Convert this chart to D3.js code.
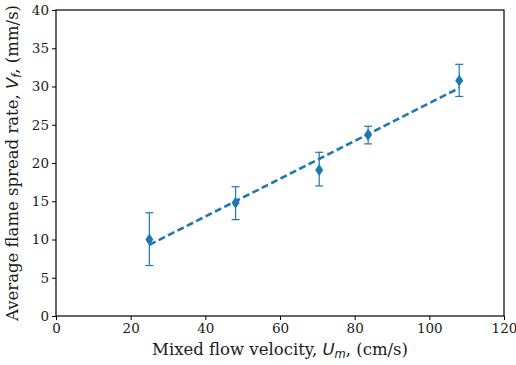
<!DOCTYPE html>
<html>
<head>
<meta charset="utf-8">
<script src="https://cdn.jsdelivr.net/npm/d3@7"></script>
<style>
  body { margin: 0; background: #fff; }
  text { font-family: "DejaVu Serif", serif; fill: #1a1a1a; }
  .math { font-family: "DejaVu Sans", sans-serif; font-style: italic; }
</style>
</head>
<body>
<div id="chart"></div>
<script>
// measured data
const velocity = [25, 48.1, 70.5, 83.6, 108];
const spreadRate = [10.0, 14.8, 19.1, 23.7, 30.8];
const errLow = [6.6, 12.6, 17.0, 22.5, 28.7];
const errHigh = [13.5, 16.9, 21.4, 24.8, 32.9];

// linear fit line endpoints
const fitX = [25, 108];
const fitY = [9.3, 29.8];

const xTicks = [0, 20, 40, 60, 80, 100, 120];
const yTicks = [0, 5, 10, 15, 20, 25, 30, 35, 40];

const width = 516;
const height = 365;
const margin = { top: 10, right: 12, bottom: 49, left: 56 };
const color = '#1f77b4';

const svg = d3.select('#chart')
  .append('svg')
  .attr('width', width)
  .attr('height', height);

const x = d3.scaleLinear().domain([0, 120]).range([margin.left, width - margin.right]);
const y = d3.scaleLinear().domain([0, 40]).range([height - margin.bottom, margin.top]);

// axes
const xAxis = svg.append('g')
  .attr('transform', `translate(0,${height - margin.bottom})`)
  .call(d3.axisBottom(x).tickValues(xTicks).tickSize(4).tickPadding(3));
const yAxis = svg.append('g')
  .attr('transform', `translate(${margin.left},0)`)
  .call(d3.axisLeft(y).tickValues(yTicks).tickSize(4).tickPadding(3));

[xAxis, yAxis].forEach(g => {
  g.select('.domain').remove();
  g.selectAll('line').attr('stroke', '#000').attr('stroke-width', 1);
  g.selectAll('text').style('font-size', '13.5px').attr('fill', '#1a1a1a');
});

// frame
svg.append('rect')
  .attr('x', margin.left)
  .attr('y', margin.top)
  .attr('width', width - margin.left - margin.right)
  .attr('height', height - margin.top - margin.bottom)
  .attr('fill', 'none')
  .attr('stroke', '#000')
  .attr('stroke-width', 1.2);

// fit line
const line = d3.line()
  .x((d, i) => x(fitX[i]))
  .y(d => y(d));

svg.append('path')
  .datum(fitY)
  .attr('fill', 'none')
  .attr('stroke', color)
  .attr('stroke-width', 2.6)
  .attr('stroke-dasharray', '7,3.5')
  .attr('d', line);

// error bars
const eb = svg.selectAll('.eb')
  .data(velocity)
  .enter().append('g')
  .attr('class', 'eb')
  .attr('stroke', color)
  .attr('stroke-width', 1.2);

eb.append('line')
  .attr('x1', d => x(d)).attr('x2', d => x(d))
  .attr('y1', (d, i) => y(errLow[i]))
  .attr('y2', (d, i) => y(errHigh[i]));
eb.append('line')
  .attr('x1', d => x(d) - 4).attr('x2', d => x(d) + 4)
  .attr('y1', (d, i) => y(errLow[i]))
  .attr('y2', (d, i) => y(errLow[i]));
eb.append('line')
  .attr('x1', d => x(d) - 4).attr('x2', d => x(d) + 4)
  .attr('y1', (d, i) => y(errHigh[i]))
  .attr('y2', (d, i) => y(errHigh[i]));

// thin diamond markers
svg.selectAll('.pt')
  .data(velocity)
  .enter().append('path')
  .attr('class', 'pt')
  .attr('transform', (d, i) => `translate(${x(d)},${y(spreadRate[i])})`)
  .attr('d', 'M0,-6L4,0L0,6L-4,0Z')
  .attr('fill', color);

// axis labels
const xl = svg.append('text')
  .attr('x', (margin.left + width - margin.right) / 2)
  .attr('y', 355)
  .attr('text-anchor', 'middle')
  .style('font-size', '16.5px');
xl.append('tspan').text('Mixed flow velocity, ');
xl.append('tspan').attr('class', 'math').text('U');
xl.append('tspan').attr('class', 'math').style('font-size', '11.5px').attr('dy', 3).text('m');
xl.append('tspan').attr('dy', -3).text(', (cm/s)');

const yl = svg.append('text')
  .attr('transform', `translate(18,${(margin.top + height - margin.bottom) / 2}) rotate(-90)`)
  .attr('text-anchor', 'middle')
  .style('font-size', '16.5px');
yl.append('tspan').text('Average flame spread rate, ');
yl.append('tspan').attr('class', 'math').text('V');
yl.append('tspan').attr('class', 'math').style('font-size', '11.5px').attr('dy', 3).text('f');
yl.append('tspan').attr('dy', -3).text(', (mm/s)');
</script>
</body>
</html>
